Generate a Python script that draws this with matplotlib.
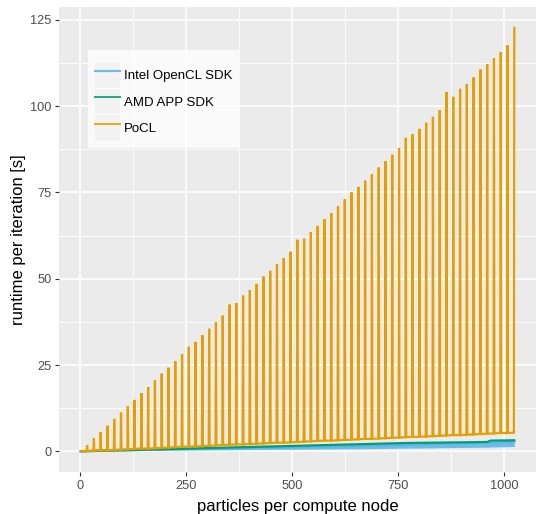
import numpy as np
import matplotlib
matplotlib.use("Agg")
import matplotlib.pyplot as plt
from matplotlib.legend_handler import HandlerLine2D
from matplotlib.lines import Line2D
from matplotlib.patches import Rectangle

plt.rcParams["font.family"] = ["Liberation Sans", "DejaVu Sans"]

# PoCL: runtime spikes every 16 particles, flat baseline in between
pocl_peak_n = list(range(16, 1025, 16))
pocl_peak = [1.8, 3.8, 5.6, 7.4, 9.4, 11.2, 13.0, 14.9, 16.8, 18.6, 20.5, 22.5,
             24.2, 26.1, 28.1, 30.3, 31.7, 33.6, 35.5, 37.4, 39.3, 42.5, 42.9,
             45.1, 46.7, 48.5, 50.6, 52.3, 54.2, 56.0, 57.8, 61.3, 61.6, 63.5,
             65.3, 67.2, 69.0, 71.0, 73.0, 75.0, 76.6, 78.4, 80.2, 82.2, 84.0,
             85.9, 87.8, 90.8, 91.8, 93.4, 95.2, 96.9, 98.8, 104.1, 102.7, 105.0,
             106.4, 108.3, 110.6, 112.2, 113.8, 115.6, 117.6, 122.7]
pocl_base = [0.1, 0.2, 0.3, 0.3, 0.4, 0.5, 0.6, 0.7, 0.8, 0.8, 0.9, 1.0, 1.1,
             1.2, 1.3, 1.4, 1.4, 1.5, 1.6, 1.7, 1.8, 1.9, 2.0, 2.0, 2.1, 2.2,
             2.3, 2.4, 2.5, 2.5, 2.6, 2.7, 2.8, 2.9, 3.0, 3.1, 3.1, 3.2, 3.3,
             3.4, 3.5, 3.6, 3.6, 3.7, 3.8, 3.9, 4.0, 4.1, 4.2, 4.2, 4.3, 4.4,
             4.5, 4.6, 4.7, 4.7, 4.8, 4.9, 5.0, 5.1, 5.2, 5.3, 5.3, 5.4]

# AMD APP SDK
amd_n = [1, 64, 128, 192, 256, 320, 384, 448, 512, 576, 640, 704, 768, 832,
         896, 960, 968, 1024]
amd = [0.0, 0.2, 0.4, 0.6, 0.8, 1.0, 1.2, 1.4, 1.6, 1.8, 2.0, 2.2, 2.4, 2.5,
       2.6, 2.7, 3.1, 3.2]

# Intel OpenCL SDK: typical runtime and lowest dips
intel_n = [1, 64, 128, 192, 256, 320, 384, 448, 512, 576, 640, 704, 768, 832,
           896, 960, 1024]
intel = [0.0, 0.2, 0.35, 0.5, 0.65, 0.8, 0.95, 1.1, 1.25, 1.4, 1.55, 1.7, 1.9,
         2.1, 2.3, 2.5, 2.8]
intel_low = [0.0, 0.1, 0.2, 0.3, 0.35, 0.4, 0.5, 0.55, 0.6, 0.65, 0.7, 0.8,
             0.9, 1.0, 1.1, 1.2, 1.4]

labels = ["Intel OpenCL SDK", "AMD APP SDK", "PoCL"]
colors = ["#56B4E9", "#009E73", "#E69F00"]

# build the PoCL path: baseline -> spike -> baseline for every peak
px, py = [1], [0.0]
for k, (n, h, b) in enumerate(zip(pocl_peak_n, pocl_peak, pocl_base)):
    px += [n - 1, n]
    py += [b, h]
    if k < len(pocl_peak_n) - 1:
        px.append(n + 1)
        py.append(b)

fig = plt.figure(figsize=(5.37, 5.14), dpi=100)
ax = fig.add_axes([0.110, 0.081, 0.888, 0.906])
ax.set_facecolor("#EBEBEB")

lw = 1.6
ax.fill_between(intel_n, intel_low, intel, color=colors[0], alpha=0.85, lw=0)
ax.plot(intel_n, intel, color=colors[0], lw=lw)
ax.plot(amd_n, amd, color=colors[1], lw=lw)
ax.plot(px, py, color=colors[2], lw=lw, solid_joinstyle="miter")

ax.set_xlim(-50.2, 1075)
ax.set_ylim(-6.1, 128.8)
ax.set_xticks([0, 250, 500, 750, 1000])
ax.set_yticks([0, 25, 50, 75, 100, 125])
ax.set_xticks([125, 375, 625, 875], minor=True)
ax.set_yticks([12.5, 37.5, 62.5, 87.5, 112.5], minor=True)
ax.grid(which="major", color="white", lw=1.1)
ax.grid(which="minor", color="white", lw=0.55)
ax.set_axisbelow(True)
for s in ax.spines.values():
    s.set_visible(False)
ax.tick_params(which="major", length=3.2, width=0.8, color="#333333",
               labelcolor="#4D4D4D", labelsize=9.2, pad=2)
ax.tick_params(which="minor", length=0)

ax.set_xlabel("particles per compute node", fontsize=12, labelpad=5)
ax.set_ylabel("runtime per iteration [s]", fontsize=12, labelpad=3)


class KeyHandler(HandlerLine2D):
    """Line key drawn on a light grey square."""
    def create_artists(self, legend, orig_handle, xdescent, ydescent,
                       width, height, fontsize, trans):
        bg = Rectangle((-xdescent, -ydescent), width, height,
                       facecolor="#F2F2F2", edgecolor="none", transform=trans)
        arts = super().create_artists(legend, orig_handle, xdescent, ydescent,
                                      width, height, fontsize, trans)
        return [bg] + arts


handles = [Line2D([], [], color=c, lw=1.5, alpha=0.85) for c in colors]
leg = ax.legend(handles, labels, loc="upper left",
                bbox_to_anchor=(0.061, 0.907), frameon=True, fancybox=False,
                fontsize=9.5, handlelength=1.9, handleheight=2.6,
                labelspacing=0.07, handletextpad=0.3, borderpad=0.5,
                borderaxespad=0, title=" ", title_fontsize=4,
                handler_map={Line2D: KeyHandler()})
leg.get_frame().set_facecolor("white")
leg.get_frame().set_edgecolor("none")

fig.savefig("out.png", dpi=100)
